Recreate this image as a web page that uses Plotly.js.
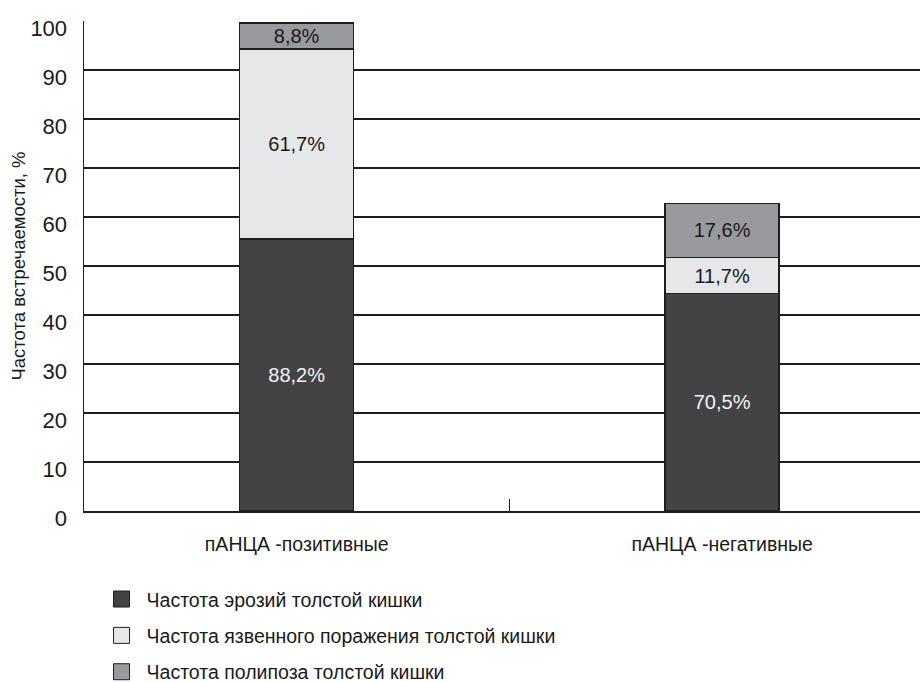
<!DOCTYPE html>
<html>
<head>
<meta charset="utf-8">
<script src="https://cdn.plot.ly/plotly-3.0.1.min.js"></script>
<style>html,body{margin:0;padding:0;background:#fff;}#chart{width:920px;height:682px;}</style>
</head>
<body>
<div id="chart"></div>
<script>
const categories = ['пАНЦА -позитивные', 'пАНЦА -негативные'];
const seriesNames = ['Частота эрозий толстой кишки', 'Частота язвенного поражения толстой кишки', 'Частота полипоза толстой кишки'];
const erosion = [55.5, 44.4];
const erosionLabels = ['88,2%', '70,5%'];
const ulcer = [38.8, 7.3];
const ulcerLabels = ['61,7%', '11,7%'];
const polyp = [5.3, 11.1];
const polypLabels = ['8,8%', '17,6%'];
const yTicks = [0, 10, 20, 30, 40, 50, 60, 70, 80, 90, 100];

const FONT = '"Liberation Sans Narrow", "Liberation Sans", Arial, sans-serif';
const colors = ['#434345', '#e6e7e9', '#999a9d'];
const textColors = ['#f2f2f2', '#1a1a1a', '#1a1a1a'];
const outline = '#1e1e1e';

function barTrace(vals, labels, i) {
  return {
    type: 'bar', x: categories, y: vals, text: labels, name: seriesNames[i],
    width: 0.268, showlegend: false,
    marker: {color: colors[i], line: {color: outline, width: 1.5}},
    textposition: 'inside', insidetextanchor: 'middle', constraintext: 'none', textangle: 0,
    textfont: {family: FONT, size: 20, color: textColors[i]},
    hoverinfo: 'skip'
  };
}
function legendTrace(i) {
  return {
    type: 'scatter', mode: 'markers', x: [null], y: [null], name: seriesNames[i],
    legendgroup: 'g' + i, showlegend: true,
    marker: {symbol: 'square', size: 16, color: colors[i], line: {color: outline, width: 1}}
  };
}

const data = [
  barTrace(erosion, erosionLabels, 0),
  barTrace(ulcer, ulcerLabels, 1),
  barTrace(polyp, polypLabels, 2),
  legendTrace(0), legendTrace(1), legendTrace(2)
];

const layout = {
  width: 920, height: 682,
  margin: {l: 84, r: 0, t: 20.5, b: 170.5, autoexpand: false},
  paper_bgcolor: '#ffffff', plot_bgcolor: '#ffffff',
  barmode: 'stack',
  font: {family: FONT, size: 19.5, color: '#1a1a1a'},
  xaxis: {
    type: 'category', range: [-0.5, 1.465],
    showline: true, linecolor: '#1e1e1e', linewidth: 1.5,
    showgrid: false, zeroline: false,
    ticks: 'inside', tickson: 'boundaries', ticklen: 12, tickcolor: '#1e1e1e', tickwidth: 1.3,
    tickfont: {family: FONT, size: 19.5, color: '#1a1a1a'},
    ticklabelstandoff: 15
  },
  yaxis: {
    range: [0, 100], tickvals: yTicks, automargin: true,
    showline: true, linecolor: '#1e1e1e', linewidth: 1.5,
    showgrid: true, gridcolor: '#1e1e1e', gridwidth: 1.3,
    zeroline: false, ticks: '',
    tickfont: {family: FONT, size: 22, color: '#1a1a1a'},
    ticklabelstandoff: 11, ticklabelshift: 7,
    title: {text: 'Частота встречаемости, %', font: {family: FONT, size: 18.5, color: '#1a1a1a'}, standoff: 0}
  },
  legend: {
    orientation: 'v', x: 0.015, xanchor: 'left', y: -0.1405, yanchor: 'top',
    font: {family: FONT, size: 19.5, color: '#1a1a1a'},
    itemwidth: 40,
    tracegroupgap: 8, bgcolor: 'rgba(0,0,0,0)', itemclick: false, itemdoubleclick: false
  },
  hovermode: false,
  showlegend: true
};

Plotly.newPlot('chart', data, layout, {staticPlot: true, displayModeBar: false});
</script>
</body>
</html>
